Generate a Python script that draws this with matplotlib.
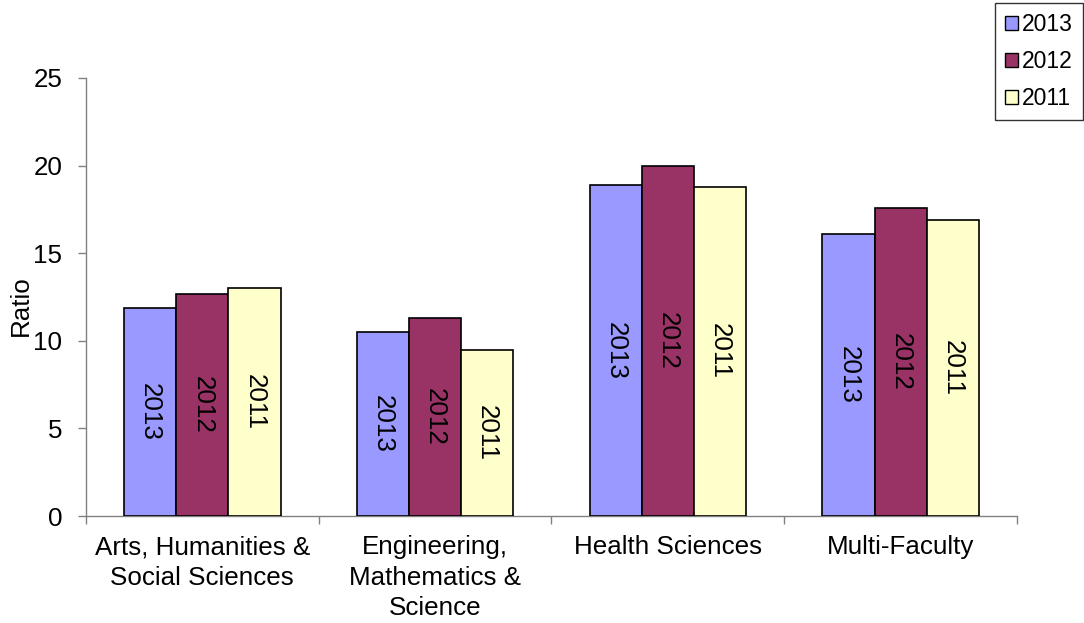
import numpy as np
import matplotlib.pyplot as plt
from matplotlib.patches import Patch

plt.rcParams['font.family'] = ['Liberation Sans', 'DejaVu Sans']

# --- data ---
faculties = ["Arts, Humanities &\nSocial Sciences",
             "Engineering,\nMathematics &\nScience",
             "Health Sciences",
             "Multi-Faculty"]
years = ["2013", "2012", "2011"]
ratio_2013 = [11.9, 10.5, 18.9, 16.1]
ratio_2012 = [12.7, 11.3, 20.0, 17.6]
ratio_2011 = [13.0, 9.5, 18.8, 16.9]
series = [ratio_2013, ratio_2012, ratio_2011]
colors = ["#9999FF", "#993366", "#FFFFCC"]

fig = plt.figure(figsize=(10.84, 6.23), dpi=100)
ax = fig.add_axes([0.0793, 0.1717, 0.8589, 0.7031])

x = np.arange(len(faculties))
width = 0.224
fs = 18.7

for i, (vals, col, yr) in enumerate(zip(series, colors, years)):
    pos = x + (i - 1) * width
    bars = ax.bar(pos, vals, width, color=col, edgecolor="black",
                  linewidth=1.2, zorder=3)
    for b in bars:
        ax.text(b.get_x() + b.get_width() / 2, b.get_height() / 2, yr,
                rotation=270, ha="center", va="center", fontsize=fs,
                zorder=4)

ax.set_xlim(-0.5, len(faculties) - 0.5)
ax.set_ylim(0, 25)
ax.set_yticks([0, 5, 10, 15, 20, 25])
ax.set_xticks(np.arange(len(faculties) + 1) - 0.5)
ax.set_xticklabels([])
ax.set_xticks(x, minor=True)
ax.set_xticklabels(faculties, minor=True, fontsize=fs, linespacing=1.33)
ax.tick_params(axis="x", which="minor", length=0, pad=14)
ax.tick_params(axis="x", which="major", length=6, color="#808080", width=1)
ax.tick_params(axis="y", length=6, color="#808080", width=1,
               labelsize=fs, pad=11)

for s in ["top", "right"]:
    ax.spines[s].set_visible(False)
for s in ["left", "bottom"]:
    ax.spines[s].set_color("#808080")
    ax.spines[s].set_linewidth(1)

ax.set_ylabel("Ratio", fontsize=fs)
ax.yaxis.set_label_coords(-0.057, 0.48)

handles = [Patch(facecolor=c, edgecolor="black", label=y)
           for c, y in zip(colors, years)]
leg = fig.legend(handles=handles, loc="upper right",
                 bbox_to_anchor=(0.9995, 0.995), fontsize=16.5,
                 frameon=True, fancybox=False, edgecolor="black",
                 handlelength=0.55, handleheight=0.55, handletextpad=0.2,
                 labelspacing=0.6, borderpad=0.45, borderaxespad=0)
leg.get_frame().set_linewidth(1)

fig.savefig("out.png", dpi=100)
